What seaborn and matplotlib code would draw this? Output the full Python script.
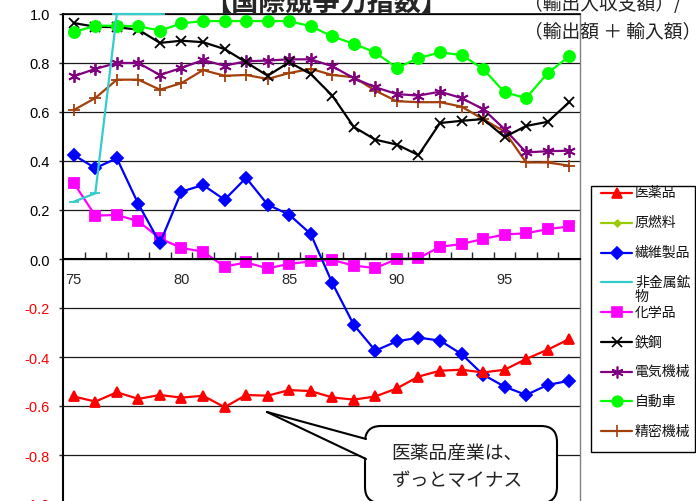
import numpy as np
import pandas as pd
import matplotlib
matplotlib.use("Agg")
import matplotlib.pyplot as plt
import matplotlib.transforms as mtransforms
from matplotlib.patches import FancyBboxPatch, Polygon, Rectangle
from matplotlib.lines import Line2D
import seaborn as sns

# ---- data: international competitiveness index (X - M) / (X + M) ----
years = list(range(75, 99))

pharma = [-0.561, -0.582, -0.544, -0.571, -0.555, -0.566, -0.558, -0.605, -0.555, -0.558,
          -0.535, -0.539, -0.565, -0.574, -0.561, -0.528, -0.480, -0.456, -0.452, -0.463,
          -0.452, -0.408, -0.370, -0.327]
textiles = [0.424, 0.371, 0.411, 0.224, 0.065, 0.275, 0.302, 0.242, 0.331, 0.222,
            0.181, 0.102, -0.098, -0.269, -0.374, -0.336, -0.321, -0.333, -0.388, -0.472,
            -0.521, -0.555, -0.514, -0.497]
nonmetal = [0.234, 0.268, 1.0, 1.0, 1.0] + [np.nan] * 19
chemicals = [0.310, 0.177, 0.180, 0.154, 0.084, 0.045, 0.030, -0.031, -0.014, -0.038,
             -0.020, -0.010, -0.004, -0.027, -0.037, 0.000, 0.003, 0.050, 0.061, 0.082,
             0.100, 0.105, 0.122, 0.133]
steel = [0.963, 0.948, 0.946, 0.936, 0.882, 0.891, 0.885, 0.857, 0.803, 0.748,
         0.803, 0.755, 0.667, 0.539, 0.487, 0.467, 0.424, 0.555, 0.564, 0.571,
         0.498, 0.543, 0.560, 0.640]
electrical = [0.746, 0.776, 0.800, 0.800, 0.751, 0.780, 0.812, 0.789, 0.807, 0.810,
              0.815, 0.815, 0.787, 0.738, 0.701, 0.673, 0.667, 0.683, 0.657, 0.612,
              0.530, 0.435, 0.440, 0.442]
autos = [0.926, 0.952, 0.952, 0.950, 0.932, 0.962, 0.971, 0.971, 0.971, 0.971,
         0.971, 0.950, 0.909, 0.878, 0.843, 0.780, 0.820, 0.843, 0.833, 0.776,
         0.680, 0.657, 0.759, 0.827]
precision = [0.608, 0.657, 0.732, 0.732, 0.691, 0.718, 0.771, 0.748, 0.751, 0.735,
             0.759, 0.776, 0.751, 0.742, 0.687, 0.644, 0.640, 0.640, 0.622, 0.571,
             0.520, 0.394, 0.394, 0.381]

sector_names = ["医薬品", "原燃料", "繊維製品", "非金属鉱物", "化学品",
                "鉄鋼", "電気機械", "自動車", "精密機械"]
series = {
    "医薬品": pharma,
    "繊維製品": textiles,
    "非金属鉱物": nonmetal,
    "化学品": chemicals,
    "鉄鋼": steel,
    "電気機械": electrical,
    "自動車": autos,
    "精密機械": precision,
}

y_ticks = [-1.0, -0.8, -0.6, -0.4, -0.2, 0.0, 0.2, 0.4, 0.6, 0.8, 1.0]
y_tick_labels = ["-1.0", "-0.8", "-0.6", "-0.4", "-0.2", "0.0", "0.2", "0.4", "0.6", "0.8", "1.0"]
x_ticks = [75, 80, 85, 90, 95]
x_tick_labels = ["75", "80", "85", "90", "95"]

title = "【国際競争力指数】"
formula_top = "（輸出入収支額）/"
formula_bottom = "（輸出額 ＋ 輸入額）"
callout = "医薬品産業は、\nずっとマイナス"

# ---- styles ----
asterisk = (6, 2, 0)
styles = {
    "医薬品":   dict(color="#FF0000", marker="^", ms=7.5),
    "原燃料":   dict(color="#99CC00", marker="D", ms=3.5),
    "繊維製品": dict(color="#0000FF", marker="D", ms=6),
    "非金属鉱物": dict(color="#33CCCC", marker="_", ms=7),
    "化学品":   dict(color="#FF00FF", marker="s", ms=7),
    "鉄鋼":     dict(color="#000000", marker="x", ms=7),
    "電気機械": dict(color="#800080", marker=asterisk, ms=9),
    "自動車":   dict(color="#00FF00", marker="o", ms=8),
    "精密機械": dict(color="#A3400C", marker="+", ms=9),
}

sns.set_style("white")
plt.rcParams["font.family"] = ["Liberation Sans", "Noto Sans CJK JP", "DejaVu Sans"]

W, H = 696, 502
fig = plt.figure(figsize=(W / 100, H / 100), dpi=100)
# pixel coordinates measured from the top-left corner of the figure
px = mtransforms.Affine2D().scale(1 / W, -1 / H).translate(0, 1) + fig.transFigure

ax_left, ax_top, ax_right, ax_bottom = 63, 15, 580, 505
ax = fig.add_axes([ax_left / W, 1 - ax_bottom / H,
                   (ax_right - ax_left) / W, (ax_bottom - ax_top) / H])

df = pd.DataFrame({"year": years, **series})
draw_order = ["非金属鉱物", "精密機械", "電気機械", "鉄鋼", "自動車", "化学品", "繊維製品", "医薬品"]
for name in draw_order:
    st = styles[name]
    n_before = len(ax.lines)
    sns.lineplot(data=df, x="year", y=name, ax=ax, color=st["color"],
                 marker=st["marker"], markersize=st["ms"],
                 markeredgecolor=st["color"], markerfacecolor=st["color"],
                 markeredgewidth=1.3, linewidth=1.6, legend=False)
    if name == "非金属鉱物":
        # the run at the top of the scale stays visible over the frame
        for ln in ax.lines[n_before:]:
            ln.set_clip_on(False)
            ln.set_zorder(3)

ax.set_xlim(74.5, 98.5)
ax.set_ylim(-1.0, 1.0)
ax.set_xlabel("")
ax.set_ylabel("")

ax.set_yticks(y_ticks, labels=y_tick_labels)
for lbl, v in zip(ax.get_yticklabels(), y_ticks):
    lbl.set_color("#FF0000" if v < 0 else "#000000")
ax.tick_params(axis="y", direction="out", length=3, width=1, pad=6.5,
               labelsize=10.5, left=True)
ax.yaxis.grid(True, color="#1a1a1a", linewidth=0.9)
ax.set_axisbelow(True)

ax.set_xticks(x_ticks, labels=x_tick_labels)
ax.set_xticks(np.arange(75.5, 98.5, 1.0), minor=True)
ax.tick_params(axis="x", which="major", length=0, pad=9, labelsize=10.5)
ax.tick_params(axis="x", which="minor", direction="in", length=5, width=1, bottom=True)

ax.spines["bottom"].set_position(("data", 0))
ax.spines["bottom"].set_linewidth(1.5)
ax.spines["bottom"].set_color("#000000")
ax.spines["left"].set_linewidth(1.5)
ax.spines["left"].set_color("#000000")
ax.spines["top"].set_linewidth(1.2)
ax.spines["top"].set_color("#000000")
ax.spines["right"].set_linewidth(1.0)
ax.spines["right"].set_color("#808080")

# ---- titles ----
fig.text(326 / W, 1 - 11 / H, title, ha="center", va="baseline",
         fontsize=19.5, fontweight="bold", family=["Noto Sans CJK JP"])
fig.text(524 / W, 1 - 10 / H, formula_top, ha="left", va="baseline",
         fontsize=13.5, color="#222222", family=["Noto Sans CJK JP"])
fig.text(524 / W, 1 - 37.5 / H, formula_bottom, ha="left", va="baseline",
         fontsize=13.5, color="#222222", family=["Noto Sans CJK JP"])

# ---- legend ----
fig.add_artist(Rectangle((591, 187), 104, 266, transform=px, facecolor="white",
                         edgecolor="#000000", linewidth=1.0, zorder=4))
y0, step = 194, 29.75
for i, name in enumerate(sector_names):
    yy = y0 + i * step
    st = styles[name]
    fig.add_artist(Line2D([601, 632], [yy, yy], transform=px, color=st["color"],
                          linewidth=1.6, zorder=5))
    fig.add_artist(Line2D([616.5], [yy], transform=px, color=st["color"],
                          marker=st["marker"], markersize=st["ms"] * 0.95,
                          markeredgecolor=st["color"], markerfacecolor=st["color"],
                          markeredgewidth=1.2, zorder=6))
    label = "非金属鉱\n物" if name == "非金属鉱物" else name
    fig.text(635 / W, 1 - (yy - 7.5) / H, label, ha="left", va="top",
             fontsize=10, linespacing=1.0, color="#111111",
             family=["Noto Sans CJK JP"], zorder=6)

# ---- callout bubble ----
bubble = FancyBboxPatch((365, 427), 192, 77, transform=px,
                        boxstyle="round,pad=0,rounding_size=16",
                        facecolor="white", edgecolor="#000000", linewidth=1.5, zorder=6)
fig.add_artist(bubble)
tip = (267, 413)
fig.add_artist(Polygon([tip, (367, 440.5), (367, 459.5)], closed=True, transform=px,
                       facecolor="white", edgecolor="none", zorder=7))
fig.add_artist(Line2D([tip[0], 366], [tip[1], 440], transform=px,
                      color="#000000", linewidth=1.5, zorder=8))
fig.add_artist(Line2D([tip[0], 366], [tip[1], 460], transform=px,
                      color="#000000", linewidth=1.5, zorder=8))
fig.text(457 / W, 1 - 467.5 / H, callout, ha="center", va="center",
         fontsize=13.5, linespacing=1.3, color="#222222",
         family=["Noto Sans CJK JP"], zorder=9)

fig.savefig("out.png", dpi=100)
